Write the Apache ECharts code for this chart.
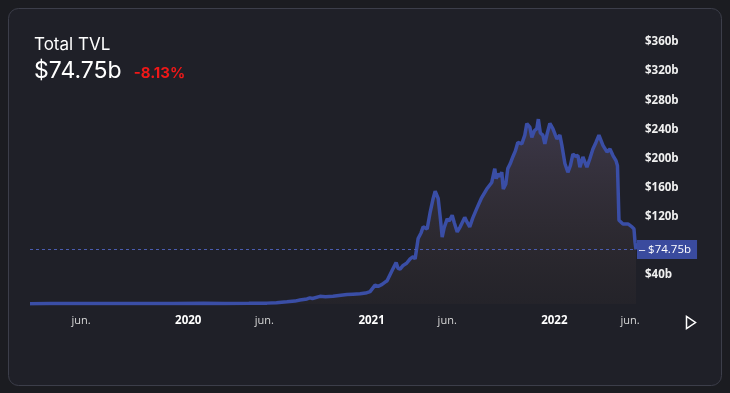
<!DOCTYPE html>
<html>
<head>
<meta charset="utf-8">
<script src="https://cdn.jsdelivr.net/npm/echarts@6/dist/echarts.min.js"></script>
<style>
html,body{margin:0;padding:0;background:#1b1c21;}
#chart{width:730px;height:393px;}
</style>
</head>
<body>
<div id="chart"></div>
<script>
const dates = [
'2019-02-19','2019-04-01','2019-06-01','2019-08-01','2019-10-01','2019-12-01','2020-02-01','2020-03-15','2020-05-01','2020-06-06',
'2020-06-25','2020-07-16','2020-08-01','2020-08-11','2020-08-25','2020-08-31','2020-09-05','2020-09-20','2020-10-01','2020-10-16',
'2020-11-01','2020-11-13','2020-11-25','2020-12-09','2020-12-20','2020-12-29','2021-01-08','2021-01-14','2021-01-22','2021-01-28',
'2021-02-01','2021-02-11','2021-02-19','2021-02-23','2021-02-27','2021-03-05','2021-03-12','2021-03-19','2021-03-25','2021-03-29',
'2021-04-04','2021-04-10','2021-04-14','2021-04-22','2021-04-28','2021-05-04','2021-05-08','2021-05-14','2021-05-18','2021-05-22',
'2021-05-26','2021-06-01','2021-06-05','2021-06-11','2021-06-15','2021-06-21','2021-06-27','2021-07-06','2021-07-11','2021-07-16',
'2021-07-22','2021-07-30','2021-08-08','2021-08-19','2021-08-29','2021-09-04','2021-09-07','2021-09-10','2021-09-14','2021-09-18',
'2021-09-21','2021-09-26','2021-09-30','2021-10-05','2021-10-10','2021-10-15','2021-10-20','2021-10-28','2021-11-03','2021-11-07',
'2021-11-13','2021-11-17','2021-11-22','2021-11-27','2021-11-30','2021-12-04','2021-12-09','2021-12-13','2021-12-18','2021-12-23',
'2021-12-29','2022-01-03','2022-01-06','2022-01-12','2022-01-16','2022-01-22','2022-01-28','2022-02-02','2022-02-07','2022-02-12',
'2022-02-17','2022-02-21','2022-02-27','2022-03-03','2022-03-07','2022-03-13','2022-03-19','2022-03-25','2022-03-31','2022-04-08',
'2022-04-16','2022-04-22','2022-04-28','2022-05-04','2022-05-07','2022-05-10','2022-05-18','2022-05-28','2022-06-05','2022-06-09',
'2022-06-11','2022-06-13'
];
const tvl = [
0.5,0.6,0.7,0.6,0.6,0.7,1.0,0.7,0.9,1.2,
1.8,3,4,5.5,7,8.5,7.5,10.5,10,10.5,
12,13,13.5,14,15,17,26,24,27,30,
32,46,57,49,48,53,56,62,65,62,
90,98,106,103,126,145,155,145,120,92,
105,117,114,122,112,99,106,119,112,106,
118,131,145,158,167,186,172,179,175,181,
158,165,186,193,202,210,222,220,232,248,
243,229,238,241,254,235,232,220,235,248,
241,232,227,232,218,193,181,190,206,203,
204,188,202,195,188,200,213,222,232,218,
209,213,204,197,190,115,110,110,106,103,
85,74.75
];
const yTicks = [0, 40, 80, 120, 160, 200, 240, 280, 320, 360];
const hiddenYTicks = [0, 80];
const xLabelDates = ['2019-06-01','2020-01-01','2020-06-01','2021-01-01','2021-06-01','2022-01-01','2022-06-01'];
const currentValue = 74.75;
const titleText = 'Total TVL';
const valueText = '$74.75b';
const changeText = '-8.13%';

const ts = d => Date.parse(d + 'T00:00:00Z');
const chart = echarts.init(document.getElementById('chart'));
const seriesData = dates.map((d, i) => [ts(d), tvl[i]]);

chart.setOption({
  backgroundColor: '#1b1c21',
  animation: false,
  graphic: [
    { type: 'rect', z: -100, silent: true,
      shape: { x: 8.5, y: 8.5, width: 713, height: 377, r: 10 },
      style: { fill: '#1f2028', stroke: '#3c3e4a', lineWidth: 1 } },
    { type: 'polygon', z: 100, silent: true,
      shape: { points: [[686.5, 316.5], [686.5, 328.5], [695.5, 322.5]] },
      style: { fill: 'none', stroke: '#ffffff', lineWidth: 1.5 } }
  ],
  title: [
    { text: titleText, left: 34, top: 36, padding: 0,
      textStyle: { color: '#ffffff', fontSize: 17, fontWeight: 'normal', fontFamily: 'Inter' } },
    { text: '{v|' + valueText + '}{c|' + changeText + '}', left: 34, top: 60, padding: 0,
      textStyle: { rich: {
        v: { color: '#ffffff', fontSize: 23, fontFamily: 'Inter', fontWeight: 'normal' },
        c: { color: '#f01818', fontSize: 15, fontFamily: 'Inter', padding: [3, 0, 0, 12] }
      } } }
  ],
  grid: { left: 30, right: 94, top: 42, bottom: 89 },
  xAxis: {
    type: 'value',
    min: ts(dates[0]), max: ts(dates[dates.length - 1]),
    axisLine: { show: false },
    axisTick: { show: false },
    splitLine: { show: false },
    axisLabel: {
      customValues: xLabelDates.map(ts),
      margin: 11,
      hideOverlap: false,
      formatter: function (v) {
        const d = new Date(v);
        return d.getUTCMonth() === 0 ? '{y|' + d.getUTCFullYear() + '}' : '{m|jun.}';
      },
      rich: {
        y: { color: '#ffffff', fontSize: 11.5, fontWeight: 'bold', fontFamily: 'Open Sans' },
        m: { color: '#d8d8d8', fontSize: 11, fontFamily: 'Open Sans' }
      }
    }
  },
  yAxis: {
    type: 'value', position: 'right',
    min: yTicks[0], max: yTicks[yTicks.length - 1], interval: yTicks[1] - yTicks[0],
    axisLine: { show: false }, axisTick: { show: false }, splitLine: { show: false },
    axisLabel: {
      margin: 9, color: '#f0f0f0', fontSize: 11.5, fontWeight: 'bold', fontFamily: 'Open Sans',
      formatter: v => hiddenYTicks.indexOf(v) >= 0 ? '' : '$' + v + 'b'
    }
  },
  series: [{
    type: 'line',
    data: seriesData,
    showSymbol: false,
    symbol: 'none',
    lineStyle: { color: '#3a4ea6', width: 3.5 },
    areaStyle: {
      color: new echarts.graphic.LinearGradient(0, 0, 0, 1, [
        { offset: 0, color: 'rgba(101,89,120,0.6)' },
        { offset: 1, color: 'rgba(90,70,60,0.12)' }
      ])
    },
    markLine: {
      silent: true, symbol: 'none',
      lineStyle: { color: '#4a5cb0', type: [3, 3], width: 1 },
      data: [{ yAxis: currentValue }],
      label: {
        position: 'end', distance: 1,
        formatter: '{d|–}{v|$' + currentValue + 'b}',
        backgroundColor: '#3a4b9e',
        padding: [4, 6, 3, 2],
        rich: {
          d: { color: '#ffffff', fontSize: 11, padding: [0, 3, 0, 0] },
          v: { color: '#ffffff', fontSize: 11.5, fontFamily: 'Open Sans' }
        }
      }
    }
  }]
});
</script>
</body>
</html>
